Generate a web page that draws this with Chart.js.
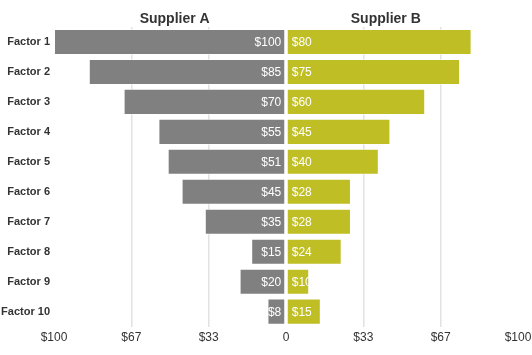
<!DOCTYPE html>
<html>
<head>
<meta charset="utf-8">
<script src="https://cdn.jsdelivr.net/npm/chart.js@4/dist/chart.umd.min.js"></script>
<style>
  html, body { margin: 0; padding: 0; background: #fff; }
  #wrap { width: 532px; height: 355px; }
</style>
</head>
<body>
<div id="wrap"><canvas id="chart"></canvas></div>
<script>
// data
const factors = ['Factor 1', 'Factor 2', 'Factor 3', 'Factor 4', 'Factor 5',
                 'Factor 6', 'Factor 7', 'Factor 8', 'Factor 9', 'Factor 10'];
const supplierA = [100, 85, 70, 55, 51, 45, 35, 15, 20, 8];
const supplierB = [80, 75, 60, 45, 40, 28, 28, 24, 10, 15];
const tickValues = [-100, -66.67, -33.33, 0, 33.33, 66.67, 100];
const tickLabels = ['$100', '$67', '$33', '0', '$33', '$67', '$100'];

const grayCol = '#808080';
const greenCol = '#BFBE24';
const fontFam = 'Arial, "Liberation Sans", sans-serif';

// value text inside the bars + the two column headers
const labelsPlugin = {
  id: 'labelsPlugin',
  afterDatasetsDraw(chart) {
    const ctx = chart.ctx;
    ctx.save();
    ctx.font = '12px ' + fontFam;
    ctx.fillStyle = '#ffffff';
    ctx.textBaseline = 'middle';
    chart.data.datasets.forEach((ds, di) => {
      const meta = chart.getDatasetMeta(di);
      meta.data.forEach((bar, i) => {
        const txt = '$' + Math.abs(ds.data[i]);
        if (di === 0) {
          ctx.textAlign = 'right';
          ctx.fillText(txt, bar.base - 4, bar.y + 1);
        } else {
          ctx.textAlign = 'left';
          ctx.fillText(txt, bar.base + 5, bar.y + 1);
        }
      });
    });
    // headers
    const xs = chart.scales.x;
    ctx.font = 'bold 14px ' + fontFam;
    ctx.fillStyle = '#333333';
    ctx.textAlign = 'center';
    ctx.fillText('Supplier A', xs.getPixelForValue(-48), 19);
    ctx.fillText('Supplier B', xs.getPixelForValue(43), 19);
    ctx.restore();
  }
};

new Chart(document.getElementById('chart'), {
  type: 'bar',
  data: {
    labels: factors,
    datasets: [
      {
        label: 'Supplier A',
        data: supplierA.map(v => -v),
        backgroundColor: grayCol,
        borderColor: 'rgba(255,255,255,0.55)',
        borderWidth: 1,
        borderSkipped: false
      },
      {
        label: 'Supplier B',
        data: supplierB,
        backgroundColor: greenCol,
        borderColor: 'rgba(255,255,255,0.55)',
        borderWidth: 1,
        borderSkipped: false
      }
    ]
  },
  options: {
    indexAxis: 'y',
    responsive: true,
    maintainAspectRatio: false,
    animation: false,
    layout: { padding: { top: 27, right: 0, bottom: 6, left: 0 } },
    datasets: { bar: { categoryPercentage: 0.87, barPercentage: 1 } },
    plugins: {
      legend: { display: false },
      tooltip: { enabled: false }
    },
    scales: {
      x: {
        stacked: true,
        min: -100,
        max: 100,
        afterBuildTicks(axis) {
          axis.ticks = tickValues.map(v => ({ value: v }));
        },
        afterFit(axis) {
          axis.paddingRight = 14;
          axis.paddingLeft = 0;
        },
        ticks: {
          autoSkip: false,
          maxRotation: 0,
          padding: 4,
          color: '#333333',
          font: { size: 12, family: fontFam },
          callback: (val, idx) => tickLabels[idx]
        },
        grid: {
          drawTicks: false,
          lineWidth: 1.5,
          color: ctx => {
            const v = ctx.tick ? ctx.tick.value : 0;
            return (Math.abs(v) > 20 && Math.abs(v) < 90) ? '#e2e2e2' : 'rgba(0,0,0,0)';
          }
        },
        border: { display: false }
      },
      y: {
        stacked: true,
        afterFit(axis) {
          axis.width = 54;
        },
        ticks: {
          padding: 4,
          color: '#333333',
          font: { size: 11, weight: 'bold', family: fontFam }
        },
        grid: { display: false, drawTicks: false },
        border: { display: false }
      }
    }
  },
  plugins: [labelsPlugin]
});
</script>
</body>
</html>
